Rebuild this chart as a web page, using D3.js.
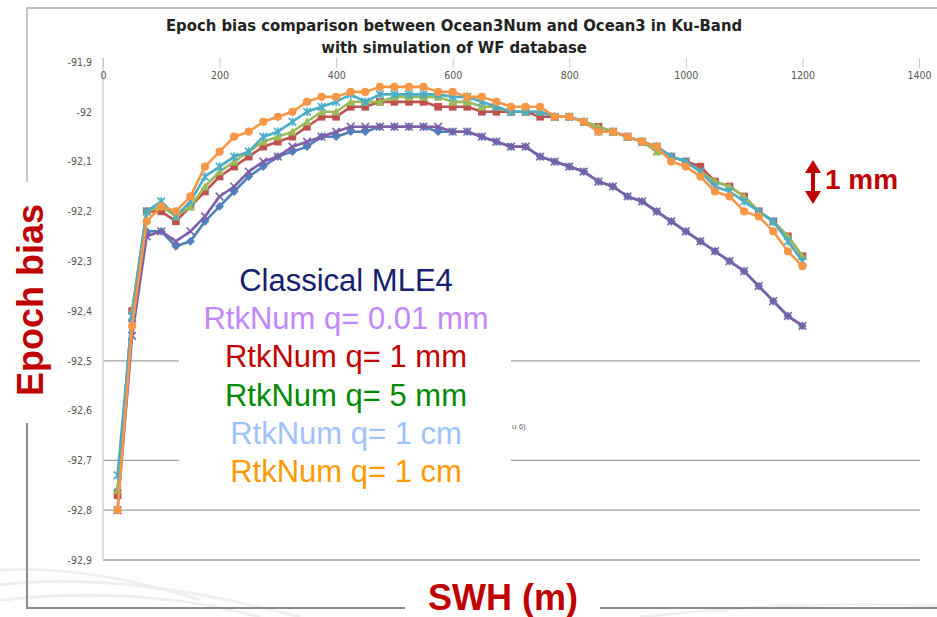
<!DOCTYPE html>
<html><head><meta charset="utf-8">
<script src="https://cdn.jsdelivr.net/npm/d3@7"></script>
<style>html,body{margin:0;padding:0;background:#fff;} svg{display:block}</style>
</head><body>
<svg id="chart" width="937" height="617"></svg>
<script>
const swh = [25,50,75,100,125,150,175,200,225,250,275,300,325,350,375,400,425,450,475,500,525,550,575,600,625,650,675,700,725,750,775,800,825,850,875,900,925,950,975,1000,1025,1050,1075,1100,1125,1150,1175,1200];

const classicalMLE4 = [-92.76,-92.42,-92.24,-92.24,-92.27,-92.26,-92.22,-92.19,-92.16,-92.13,
  -92.11,-92.09,-92.08,-92.07,-92.05,-92.05,-92.04,-92.04,-92.03,-92.03,
  -92.03,-92.03,-92.04,-92.04,-92.04,-92.05,-92.06,-92.07,-92.07,-92.09,
  -92.10,-92.11,-92.12,-92.14,-92.15,-92.17,-92.18,-92.20,-92.22,-92.24,
  -92.26,-92.28,-92.30,-92.32,-92.35,-92.38,-92.41,-92.43];

const rtkQ001mm = [-92.80,-92.45,-92.25,-92.24,-92.26,-92.24,-92.21,-92.17,-92.15,-92.12,
  -92.10,-92.09,-92.07,-92.06,-92.05,-92.04,-92.03,-92.03,-92.03,-92.03,
  -92.03,-92.03,-92.03,-92.04,-92.04,-92.05,-92.06,-92.07,-92.07,-92.09,
  -92.10,-92.11,-92.12,-92.14,-92.15,-92.17,-92.18,-92.20,-92.22,-92.24,
  -92.26,-92.28,-92.30,-92.32,-92.35,-92.38,-92.41,-92.43];

const rtkQ1mm = [-92.77,-92.40,-92.20,-92.20,-92.22,-92.19,-92.16,-92.13,-92.11,-92.09,
  -92.07,-92.06,-92.05,-92.03,-92.01,-92.01,-91.99,-91.99,-91.98,-91.98,
  -91.98,-91.98,-91.99,-91.99,-91.99,-92.00,-92.00,-92.00,-92.00,-92.01,
  -92.01,-92.01,-92.02,-92.03,-92.04,-92.05,-92.06,-92.07,-92.09,-92.10,
  -92.11,-92.14,-92.15,-92.17,-92.20,-92.22,-92.25,-92.29];

const rtkQ5mm = [-92.76,-92.40,-92.20,-92.19,-92.21,-92.19,-92.15,-92.12,-92.10,-92.08,
  -92.06,-92.05,-92.04,-92.02,-92.00,-92.00,-91.98,-91.98,-91.98,-91.97,
  -91.97,-91.97,-91.97,-91.98,-91.98,-91.99,-91.99,-92.00,-92.00,-92.00,
  -92.01,-92.01,-92.02,-92.03,-92.04,-92.05,-92.06,-92.08,-92.09,-92.10,
  -92.12,-92.14,-92.15,-92.17,-92.20,-92.22,-92.25,-92.29];

const rtkQ1cmA = [-92.73,-92.41,-92.20,-92.18,-92.21,-92.18,-92.13,-92.11,-92.09,-92.08,
  -92.05,-92.04,-92.02,-92.00,-91.99,-91.98,-91.965,-91.98,-91.965,-91.965,
  -91.965,-91.965,-91.965,-91.97,-91.97,-91.98,-91.99,-92.00,-92.00,-92.00,
  -92.01,-92.01,-92.02,-92.04,-92.04,-92.05,-92.06,-92.07,-92.09,-92.10,
  -92.12,-92.15,-92.16,-92.18,-92.20,-92.22,-92.26,-92.30];

const rtkQ1cmB = [-92.80,-92.43,-92.22,-92.19,-92.20,-92.17,-92.11,-92.08,-92.05,-92.04,
  -92.02,-92.01,-92.00,-91.98,-91.97,-91.97,-91.96,-91.96,-91.95,-91.95,
  -91.95,-91.95,-91.96,-91.96,-91.97,-91.97,-91.98,-91.99,-91.99,-91.99,
  -92.01,-92.01,-92.02,-92.04,-92.04,-92.05,-92.06,-92.07,-92.10,-92.11,
  -92.13,-92.16,-92.17,-92.20,-92.21,-92.24,-92.28,-92.31];

const seriesColors = ["#4F81BD","#C0504D","#9BBB59","#7D5FA8","#4BACC6","#F79646"];
const seriesMarkers = ["diamond","square","triangle","x","star","circle"];

const xTicks = [0,200,400,600,800,1000,1200,1400];
const yTicks = [-91.9,-92,-92.1,-92.2,-92.3,-92.4,-92.5,-92.6,-92.7,-92.8,-92.9];
const gridValues = [-92.5,-92.7,-92.8,-92.9];

const titleLines = ["Epoch bias comparison between Ocean3Num and Ocean3 in Ku-Band","with simulation of WF database"];
const legendLabels = ["Classical MLE4","RtkNum q= 0.01 mm","RtkNum q= 1 mm","RtkNum q= 5 mm","RtkNum q= 1 cm","RtkNum q= 1 cm"];
const legendColors = ["#14206e","#c386ff","#c00000","#008a00","#9fc2ff","#ff9a00"];
const yTitle = "Epoch bias";
const xTitle = "SWH (m)";
const scaleNote = "1 mm";

const series = [classicalMLE4, rtkQ1mm, rtkQ5mm, rtkQ001mm, rtkQ1cmA, rtkQ1cmB];

const svg = d3.select("#chart");
const narrow = "'Liberation Sans Narrow','Arial Narrow','DejaVu Sans Condensed',sans-serif";
const sans = "'Liberation Sans',Arial,sans-serif";

const x = d3.scaleLinear().domain([0,1400]).range([103,919]);
const y = d3.scaleLinear().domain([-92.9,-91.9]).range([560,62]);

// faint background swooshes (slide decoration)
const deco = svg.append("g").attr("fill","none").attr("stroke","#efefef").attr("stroke-width",3);
deco.append("path").attr("d","M0,585 Q120,570 300,617");
deco.append("path").attr("d","M0,600 Q140,585 260,617");
deco.append("path").attr("d","M0,570 Q90,565 200,600");
deco.append("path").attr("d","M640,617 Q800,600 937,606");

// outer frame
svg.append("path").attr("d","M937,8H27V182").attr("fill","none").attr("stroke","#a8a8a8").attr("stroke-width",1.3);
svg.append("path").attr("d","M27,423V608H405").attr("fill","none").attr("stroke","#8c8c8c").attr("stroke-width",2);
svg.append("path").attr("d","M600,608H937").attr("fill","none").attr("stroke","#8c8c8c").attr("stroke-width",2);

// title
svg.append("g").selectAll("text").data(titleLines).join("text")
  .attr("x",454).attr("y",(d,i)=>31+i*22).attr("text-anchor","middle")
  .attr("font-family",narrow).attr("font-weight","bold").attr("font-size",16.5).attr("fill","#222")
  .text(d=>d);

// gridlines
svg.append("g").selectAll("line").data(gridValues).join("line")
  .attr("x1",x(0)).attr("x2",920).attr("y1",d=>y(d)).attr("y2",d=>y(d))
  .attr("stroke","#a0a0a0").attr("stroke-width",1.3);

// y axis
const yAxis = svg.append("g").attr("transform",`translate(${x(0)},0)`)
  .call(d3.axisLeft(y).tickValues(yTicks).tickSize(0).tickPadding(11)
    .tickFormat(d=>String(Math.round(d*10)/10).replace(".",",")));
yAxis.select(".domain").attr("stroke","#d4d4d4").attr("stroke-width",1.5).attr("d","M0,58V560");
yAxis.selectAll("text").attr("font-family",narrow).attr("font-size",10.5).attr("fill","#555");

// x axis (top)
const xAxis = svg.append("g").attr("transform","translate(0,58)")
  .call(d3.axisBottom(x).tickValues(xTicks).tickSize(10).tickPadding(4).tickFormat(d3.format("d")));
xAxis.select(".domain").remove();
xAxis.selectAll("line").attr("stroke","#c8c8c8");
xAxis.selectAll("text").attr("font-family",narrow).attr("font-size",10.5).attr("fill","#555");

// small remnant text
svg.append("text").attr("x",512).attr("y",429).attr("font-family",sans).attr("font-size",8).attr("fill","#666").text("u 6)");

// series
const line = d3.line().x((d,i)=>x(swh[i])).y(d=>y(d));
const markerG = (sel, type, color) => {
  const r = 3.8;
  if (type==="diamond") sel.append("path").attr("d",`M0,${-r-0.6}L${r+0.6},0L0,${r+0.6}L${-r-0.6},0Z`).attr("fill",color);
  else if (type==="square") sel.append("rect").attr("x",-r).attr("y",-r).attr("width",2*r).attr("height",2*r).attr("fill",color);
  else if (type==="triangle") sel.append("path").attr("d",`M0,${-r-0.5}L${r+0.5},${r}L${-r-0.5},${r}Z`).attr("fill",color);
  else if (type==="circle") sel.append("circle").attr("r",r+0.3).attr("fill",color);
  else if (type==="x") sel.append("path").attr("d",`M${-r},${-r}L${r},${r}M${-r},${r}L${r},${-r}`).attr("stroke",color).attr("stroke-width",1.6);
  else if (type==="star") sel.append("path").attr("d",`M${-r},${-r}L${r},${r}M${-r},${r}L${r},${-r}M0,${-r-0.5}L0,${r+0.5}`).attr("stroke",color).attr("stroke-width",1.6);
};
series.forEach((vals, s) => {
  const g = svg.append("g");
  g.append("path").attr("d", line(vals)).attr("fill","none")
    .attr("stroke", seriesColors[s]).attr("stroke-width",2.6).attr("stroke-linejoin","round");
  g.selectAll("g").data(vals).join("g")
    .attr("transform",(d,i)=>`translate(${x(swh[i])},${y(d)})`)
    .each(function(){ markerG(d3.select(this), seriesMarkers[s], seriesColors[s]); });
});

// legend (white box covering grid)
svg.append("rect").attr("x",179).attr("y",256).attr("width",332).attr("height",240).attr("fill","#fff");
svg.append("g").selectAll("text").data(legendLabels).join("text")
  .attr("x",346).attr("y",(d,i)=>291+i*38.2).attr("text-anchor","middle")
  .attr("font-family",sans).attr("font-size",31).attr("fill",(d,i)=>legendColors[i]).text(d=>d);

// y title
svg.append("rect").attr("x",8).attr("y",183).attr("width",44).attr("height",240).attr("fill","#fff");
svg.append("text").attr("transform","translate(43,300) rotate(-90)").attr("text-anchor","middle")
  .attr("font-family",sans).attr("font-weight","bold").attr("font-size",36).attr("fill","#c00000").text(yTitle);

// x title
svg.append("text").attr("x",503).attr("y",610).attr("text-anchor","middle")
  .attr("font-family",sans).attr("font-weight","bold").attr("font-size",36).attr("fill","#c00000").text(xTitle);

// 1 mm scale note with double arrow
const ag = svg.append("g").attr("fill","#c00000");
ag.append("path").attr("d","M813,160L821,173L805,173Z");
ag.append("path").attr("d","M813,204L821,191L805,191Z");
ag.append("rect").attr("x",811).attr("y",172).attr("width",4).attr("height",20);
svg.append("text").attr("x",825).attr("y",189).attr("font-family",sans).attr("font-weight","bold")
  .attr("font-size",28).attr("fill","#c00000").text(scaleNote);
</script>
</body></html>
